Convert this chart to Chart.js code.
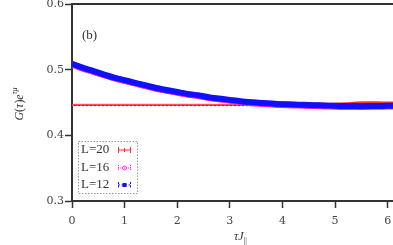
<!DOCTYPE html>
<html>
<head>
<meta charset="utf-8">
<script src="https://cdn.jsdelivr.net/npm/chart.js@4"></script>
<style>
  html, body { margin: 0; padding: 0; background: #fff; }
  #wrap { width: 393px; height: 245px; }
</style>
</head>
<body>
<div id="wrap"><canvas id="chart" width="393" height="245"></canvas></div>
<script>
/* DATA */

const tau = [0, 0.2, 0.4, 0.6, 0.8, 1.0, 1.2, 1.4, 1.6, 1.8, 2.0, 2.2, 2.4, 2.6, 2.8, 3.0,
  3.2, 3.4, 3.6, 3.8, 4.0, 4.2, 4.4, 4.6, 4.8, 5.0, 5.2, 5.4, 5.6, 5.8, 6.0, 6.1];

const g20 = [0.508, 0.502, 0.497, 0.492, 0.487, 0.483, 0.479, 0.475, 0.471, 0.468, 0.465,
  0.462, 0.460, 0.457, 0.455, 0.453, 0.451, 0.450, 0.4488, 0.4478, 0.4470, 0.4465, 0.4460,
  0.4455, 0.4452, 0.4452, 0.4458, 0.4468, 0.4472, 0.4472, 0.4470, 0.4470];

const g16 = [0.508, 0.502, 0.497, 0.492, 0.487, 0.483, 0.479, 0.475, 0.471, 0.468, 0.465,
  0.462, 0.460, 0.457, 0.455, 0.453, 0.451, 0.449, 0.4478, 0.4468, 0.4460, 0.4455, 0.4450,
  0.4445, 0.4440, 0.4435, 0.4432, 0.4430, 0.4432, 0.4435, 0.4438, 0.4438];

const g12 = [0.509, 0.503, 0.498, 0.493, 0.488, 0.484, 0.480, 0.476, 0.472, 0.469, 0.466,
  0.463, 0.461, 0.458, 0.456, 0.454, 0.452, 0.4505, 0.4493, 0.4483, 0.4475, 0.4470, 0.4465,
  0.4460, 0.4455, 0.4450, 0.4447, 0.4445, 0.4445, 0.4447, 0.4450, 0.4450];

const limits = [0.4472, 0.4455, 0.4452];   // long-time values L=20, 16, 12

const seriesLabels = ["L=20", "L=16", "L=12"];
const seriesColors = ["#ff3030", "#ff20ff", "#1010ff"];

const yTicks = [0.3, 0.4, 0.5, 0.6];
const xTicks = [0, 1, 2, 3, 4, 5, 6];

const FONT = "'Liberation Serif', 'DejaVu Serif', serif";
const TICKFONT = "'DejaVu Serif', serif";
const AXIS = "#333333";


function pts(ys) {
  return tau.map((t, i) => ({ x: t, y: ys[i] }));
}

function flat(v) {
  return [{ x: 0, y: v }, { x: 6.1, y: v }];
}


/* LEGEND + DECORATION PLUGIN */

const decor = {
  id: "decor",
  afterDraw(chart) {
    const c = chart.ctx;
    const a = chart.chartArea;

    c.save();

    // top frame line
    c.strokeStyle = AXIS;
    c.lineWidth = 2;
    c.beginPath();
    c.moveTo(a.left, a.top);
    c.lineTo(a.right, a.top);
    c.stroke();

    // panel tag
    c.fillStyle = "#333";
    c.font = "13px " + FONT;
    c.textBaseline = "middle";
    c.fillText("(b)", 82, 36);

    // y axis title with superscript
    c.translate(20, 104);
    c.rotate(-Math.PI / 2);
    c.font = "italic 12px " + FONT;
    c.textAlign = "left";
    let w1 = c.measureText("G").width;
    c.font = "12px " + FONT;
    let w2 = c.measureText("(").width;
    c.font = "italic 12px " + FONT;
    let w3 = c.measureText("τ").width;
    c.font = "12px " + FONT;
    let w4 = c.measureText(")").width;
    c.font = "italic 12px " + FONT;
    let w5 = c.measureText("e").width;
    c.font = "italic 8px " + FONT;
    let w6 = c.measureText("τμ").width;
    let x = -(w1 + w2 + w3 + w4 + w5 + w6) / 2;
    c.font = "italic 12px " + FONT; c.fillText("G", x, 0); x += w1;
    c.font = "12px " + FONT; c.fillText("(", x, 0); x += w2;
    c.font = "italic 12px " + FONT; c.fillText("τ", x, 0); x += w3;
    c.font = "12px " + FONT; c.fillText(")", x, 0); x += w4;
    c.font = "italic 12px " + FONT; c.fillText("e", x, 0); x += w5;
    c.font = "italic 8px " + FONT; c.fillText("τμ", x, -5);
    c.restore();

    // x axis title
    c.save();
    c.fillStyle = "#333";
    c.textBaseline = "middle";
    c.font = "italic 12px " + FONT;
    c.fillText("τJ", 234, 237);
    let wj = c.measureText("τJ").width;
    c.font = "8px " + FONT;
    c.fillText("||", 234 + wj, 241);
    c.restore();

    // legend box
    c.save();
    c.strokeStyle = "#999";
    c.lineWidth = 1;
    c.setLineDash([1.5, 1.5]);
    c.strokeRect(78.5, 141.5, 59, 52);
    c.setLineDash([]);

    c.font = "13px " + FONT;
    c.textBaseline = "middle";
    const rows = [150, 168, 185];
    seriesLabels.forEach((lab, i) => {
      const yy = rows[i];
      c.fillStyle = "#333";
      c.fillText(lab, 81, yy);
      const col = seriesColors[i];
      c.strokeStyle = col;
      c.fillStyle = col;
      c.lineWidth = 1;
      if (i === 0) c.setLineDash([]);
      else if (i === 1) c.setLineDash([1, 1]);
      else c.setLineDash([2, 1.5]);
      c.beginPath();
      c.moveTo(118, yy); c.lineTo(131, yy);
      c.moveTo(118.5, yy - 3); c.lineTo(118.5, yy + 3);
      c.moveTo(130.5, yy - 3); c.lineTo(130.5, yy + 3);
      c.stroke();
      c.setLineDash([]);
      if (i === 0) {
        c.beginPath();
        c.moveTo(124.5, yy - 2); c.lineTo(124.5, yy + 2);
        c.stroke();
      } else if (i === 1) {
        c.beginPath();
        c.arc(124.5, yy, 2, 0, Math.PI * 2);
        c.stroke();
      } else {
        c.fillRect(122.5, yy - 2, 4, 4);
      }
    });
    c.restore();
  }
};


/* CHART */

const curveSets = [g20, g16, g12].map((ys, i) => ({
  label: seriesLabels[i],
  data: pts(ys),
  borderColor: seriesColors[i],
  backgroundColor: seriesColors[i],
  borderWidth: 6,
  pointRadius: 0,
  tension: 0.3,
  order: 3 - i
}));

const limitSets = limits.map((v, i) => ({
  label: seriesLabels[i] + " limit",
  data: flat(v),
  borderColor: seriesColors[i],
  borderWidth: 1,
  borderDash: i === 0 ? [] : [2, 2],
  borderDashOffset: i === 2 ? 2 : 0,
  pointRadius: 0,
  order: 10 + i
}));

function noPad(s) {
  s.paddingLeft = 0;
  s.paddingRight = 0;
  s.paddingTop = 0;
  s.paddingBottom = 0;
}

new Chart(document.getElementById("chart"), {
  type: "line",
  data: { datasets: limitSets.concat(curveSets) },
  options: {
    responsive: false,
    animation: false,
    events: [],
    layout: { padding: { top: 4, right: 0, left: 0, bottom: 0 } },
    plugins: {
      legend: { display: false },
      tooltip: { enabled: false }
    },
    scales: {
      x: {
        type: "linear",
        min: 0,
        max: 6.1,
        afterFit: s => { s.height = 44; noPad(s); },
        afterBuildTicks: s => { s.ticks = xTicks.map(v => ({ value: v })); },
        grid: { drawOnChartArea: false, drawTicks: true, tickLength: 7, tickColor: AXIS, tickWidth: 1.5 },
        border: { color: AXIS, width: 2 },
        ticks: { color: "#444", font: { family: TICKFONT, size: 11 }, padding: 7, maxRotation: 0,
          callback: v => String(v) }
      },
      y: {
        min: 0.3,
        max: 0.6,
        afterFit: s => { s.width = 72; noPad(s); },
        afterBuildTicks: s => { s.ticks = yTicks.map(v => ({ value: v })); },
        grid: { drawOnChartArea: false, drawTicks: true, tickLength: 7, tickColor: AXIS, tickWidth: 1.5 },
        border: { color: AXIS, width: 2 },
        ticks: { color: "#444", font: { family: TICKFONT, size: 11 }, padding: 1,
          callback: v => v.toFixed(1) }
      }
    }
  },
  plugins: [decor]
});
</script>
</body>
</html>
